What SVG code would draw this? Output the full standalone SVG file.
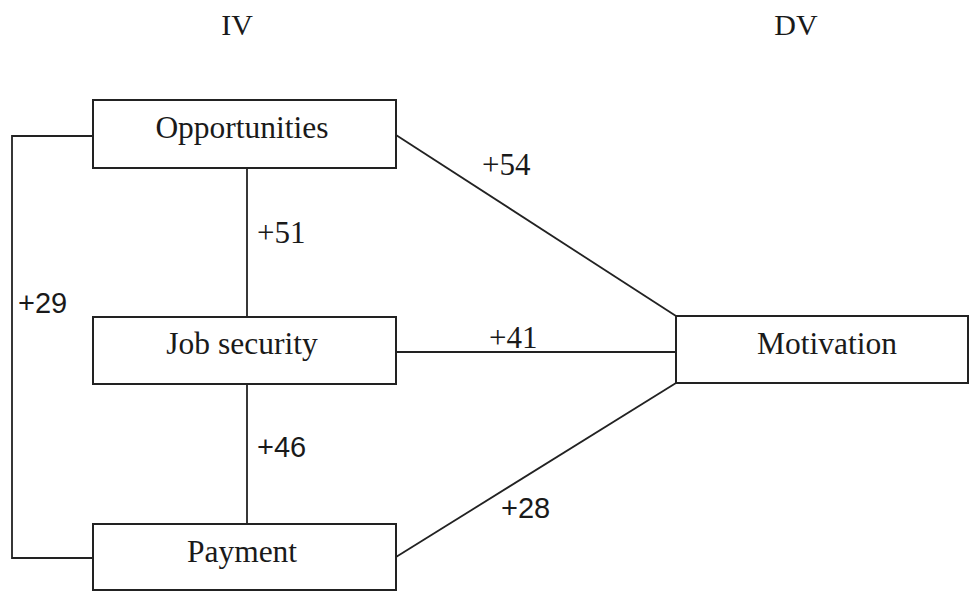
<svg xmlns="http://www.w3.org/2000/svg" width="969" height="592" viewBox="0 0 969 592">
<style>
.box{fill:#fff;stroke:#222;stroke-width:2}
.ln{fill:none;stroke:#222;stroke-width:1.8}
.t{font-family:"Liberation Serif","Times New Roman",serif;font-size:31.5px;fill:#1a1a1a;text-anchor:middle}
.h{font-family:"Liberation Serif","Times New Roman",serif;font-size:30px;fill:#1a1a1a;text-anchor:middle}
.ls{font-family:"Liberation Serif","Times New Roman",serif;font-size:31px;fill:#1a1a1a}
.la{font-family:"Liberation Sans",Arial,sans-serif;font-size:29px;fill:#1a1a1a}
</style>
<rect width="969" height="592" fill="#fff"/>
<g id="headers">
<text class="h" x="237" y="35">IV</text>
<text class="h" x="796" y="35">DV</text>
</g>
<g id="connectors">
<polyline class="ln" points="93,136 12,136 12,558 93,558"/>
<line class="ln" x1="247" y1="168" x2="247" y2="317"/>
<line class="ln" x1="247" y1="384" x2="247" y2="524"/>
<line class="ln" x1="396" y1="135" x2="676" y2="316"/>
<line class="ln" x1="396" y1="352" x2="676" y2="352"/>
<line class="ln" x1="396" y1="557" x2="676" y2="383"/>
<text class="ls" x="482" y="175">+54</text>
<text class="ls" x="257" y="243">+51</text>
<text class="la" x="18" y="313">+29</text>
<text class="ls" x="489" y="348">+41</text>
<text class="la" x="257" y="457">+46</text>
<text class="la" x="501" y="518">+28</text>
</g>
<g id="opportunities">
<rect class="box" x="93" y="100" width="303" height="68"/>
<text class="t" x="242" y="138">Opportunities</text>
</g>
<g id="job-security">
<rect class="box" x="93" y="317" width="303" height="67"/>
<text class="t" x="242" y="354">Job security</text>
</g>
<g id="payment">
<rect class="box" x="93" y="524" width="303" height="66"/>
<text class="t" x="242" y="562">Payment</text>
</g>
<g id="motivation">
<rect class="box" x="676" y="316" width="292" height="67"/>
<text class="t" x="827" y="354">Motivation</text>
</g>
</svg>
